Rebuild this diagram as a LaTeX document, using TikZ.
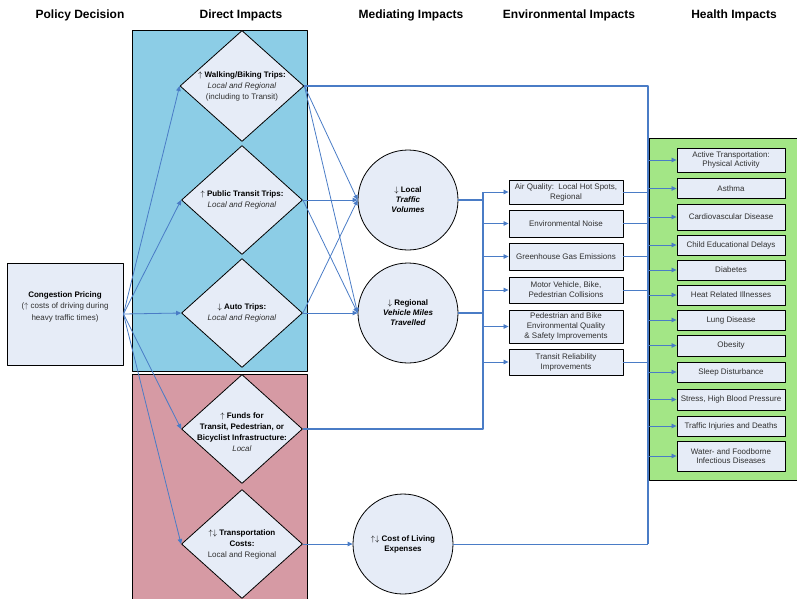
\documentclass[tikz,border=0pt]{standalone}
\usepackage{fontspec}
\setmainfont{Liberation Sans}
\usetikzlibrary{arrows.meta,shapes.geometric}
\definecolor{linkblue}{HTML}{4A7CC6}
\definecolor{directblue}{HTML}{8CCDE6}
\definecolor{fundpink}{HTML}{D69AA4}
\definecolor{healthgreen}{HTML}{A3E686}
\definecolor{boxfill}{HTML}{E6ECF7}
\definecolor{txtgray}{HTML}{303030}
\newcommand{\up}{$\uparrow$}
\newcommand{\dn}{$\downarrow$}
\tikzset{
  every picture/.style={line join=round, >={Triangle[length=5pt,width=4.5pt]}},
  heading/.style={font=\fontsize{12}{14}\selectfont\bfseries},
  panel/.style={draw=black, line width=0.9pt},
  impact/.style={diamond, draw=black, fill=boxfill, line width=0.8pt, minimum width=121pt, minimum height=109pt, inner sep=0pt},
  impacttext/.style={align=center, font=\fontsize{8}{11}\selectfont, text=txtgray, inner sep=0pt},
  mediator/.style={circle, draw=black, fill=boxfill, line width=0.8pt, minimum size=100pt, inner sep=0pt, align=center, font=\fontsize{8}{10}\selectfont\bfseries},
  envbox/.style={draw=black, fill=boxfill, line width=0.9pt, minimum width=114pt, inner sep=0pt, align=center, font=\fontsize{8}{10}\selectfont, text=txtgray},
  healthbox/.style={draw=black, fill=boxfill, line width=0.9pt, minimum width=108pt, inner sep=0pt, align=center, font=\fontsize{8}{9.5}\selectfont, text=txtgray},
  link/.style={draw=linkblue, line width=0.8pt},
  trunk/.style={draw=linkblue, line width=1.6pt},
}

\begin{document}
\begin{tikzpicture}[x=1pt,y=-1pt]
\useasboundingbox (0,0) rectangle (797,598);
\node[heading] (hPolicy) at (80,15) {Policy Decision};
\node[heading] (hDirect) at (241,15) {Direct Impacts};
\node[heading] (hMediating) at (411,15) {Mediating Impacts};
\node[heading] (hEnv) at (569,15) {Environmental Impacts};
\node[heading] (hHealth) at (734,15) {Health Impacts};
\draw[panel,fill=directblue] (132,30) rectangle (307,371);
\draw[panel,fill=fundpink] (132,374) rectangle (307,604);
\draw[panel,fill=healthgreen] (649,138) rectangle (800,480);
\node[draw=black, fill=boxfill, line width=0.9pt, minimum width=116pt, minimum height=102pt, align=center, font=\fontsize{8}{11.5}\selectfont, text=txtgray] (pricing) at (65,314)
  {\textbf{\color{black}Congestion Pricing}\\(\up\ costs of driving during\\heavy traffic times)\\[5pt]};
\node[impact, minimum width=124pt, minimum height=111pt] (walk) at (242,86) {};
\node[impacttext] (walkT) at (walk) {\textbf{\color{black}\up\ Walking/Biking Trips:}\\\textit{Local and Regional}\\(including to Transit)};
\node[impact] (transit) at (242,200) {};
\node[impacttext] (transitT) at (transit) {\textbf{\color{black}\up\ Public Transit Trips:}\\\textit{Local and Regional}};
\node[impact] (auto) at (242,313) {};
\node[impacttext] (autoT) at (auto) {\textbf{\color{black}\dn\ Auto Trips:}\\\textit{Local and Regional}};
\node[impact] (funds) at (242,429) {};
\node[impacttext] (fundsT) at ([yshift=-3pt]funds.center) {\textbf{\color{black}\up\ Funds for}\\\textbf{\color{black}Transit, Pedestrian, or}\\\textbf{\color{black}Bicyclist Infrastructure:}\\\textit{Local}};
\node[impact] (costs) at (242,544) {};
\node[impacttext] (costsT) at (costs) {\textbf{\color{black}\up\dn\ Transportation}\\\textbf{\color{black}Costs:}\\Local and Regional};
\node[mediator] (local) at (408,200) {\dn\ Local\\\textit{Traffic}\\\textit{Volumes}};
\node[mediator] (regional) at (408,313) {\dn\ Regional\\\textit{Vehicle Miles}\\\textit{Travelled}};
\node[mediator] (living) at (403,544) {\up\dn\ Cost of Living\\Expenses};
\node[envbox, minimum height=24pt] (air) at (566,192) {Air Quality:\ \ Local Hot Spots,\\Regional};
\node[envbox, minimum height=27pt] (noise) at (566,223.5) {Environmental Noise};
\node[envbox, minimum height=27pt] (ghg) at (566,256.5) {Greenhouse Gas Emissions};
\node[envbox, minimum height=26pt] (collide) at (566,290) {Motor Vehicle, Bike,\\Pedestrian Collisions};
\node[envbox, minimum height=33pt] (pedenv) at (566,326.5) {Pedestrian and Bike\\Environmental Quality\\\& Safety Improvements};
\node[envbox, minimum height=26pt] (reliab) at (566,362) {Transit Reliability\\Improvements};
\node[healthbox, minimum height=24pt] (active) at (731,160) {Active Transportation:\\Physical Activity};
\node[healthbox, minimum height=20pt] (asthma) at (731,188.5) {Asthma};
\node[healthbox, minimum height=26pt] (cardio) at (731,217) {Cardiovascular Disease};
\node[healthbox, minimum height=20pt] (child) at (731,245) {Child Educational Delays};
\node[healthbox, minimum height=20pt] (diabetes) at (731,270) {Diabetes};
\node[healthbox, minimum height=20pt] (heat) at (731,295) {Heat Related Illnesses};
\node[healthbox, minimum height=20pt] (lung) at (731,320) {Lung Disease};
\node[healthbox, minimum height=21pt] (obesity) at (731,345.5) {Obesity};
\node[healthbox, minimum height=20pt] (sleep) at (731,372) {Sleep Disturbance};
\node[healthbox, minimum height=21pt] (stress) at (731,399.5) {Stress, High Blood Pressure};
\node[healthbox, minimum height=20pt] (injury) at (731,426) {Traffic Injuries and Deaths};
\node[healthbox, minimum height=30pt] (water) at (731,456) {Water- and Foodborne\\Infectious Diseases};
\draw[link,->] (pricing.east) -- (walk.west);
\draw[link,->] (pricing.east) -- (transit.west);
\draw[link,->] (pricing.east) -- (auto.west);
\draw[link,->] (pricing.east) -- (funds.west);
\draw[link,->] (pricing.east) -- (costs.west);
\draw[link,->] (walk.east) -- (local.west);
\draw[link,->] (walk.east) -- (regional.west);
\draw[link,->] (transit.east) -- (local.west);
\draw[link,->] (transit.east) -- (regional.west);
\draw[link,->] (auto.east) -- (local.west);
\draw[link,->] (auto.east) -- (regional.west);
\draw[link,->] (costs.east) -- (living.west);
\coordinate (ebus) at (483,192);
\coordinate (hbus) at (648,86);
\draw[trunk] (local.east) -- (local.east -| ebus);
\draw[trunk] (regional.east) -- (regional.east -| ebus);
\draw[trunk] (funds.east) -| (ebus);
\draw[link,->] (ebus) -- (air.west);
\draw[link,->] (ebus |- noise) -- (noise.west);
\draw[link,->] (ebus |- ghg) -- (ghg.west);
\draw[link,->] (ebus |- collide) -- (collide.west);
\draw[link,->] (ebus |- pedenv) -- (pedenv.west);
\draw[link,->] (ebus |- reliab) -- (reliab.west);
\draw[trunk] (walk.east) -- (hbus) -- (hbus |- living);
\draw[link] (living.east) -- (living.east -| hbus);
\draw[link] (air.east) -- (air.east -| hbus);
\draw[link] (noise.east) -- (noise.east -| hbus);
\draw[link] (ghg.east) -- (ghg.east -| hbus);
\draw[link] (collide.east) -- (collide.east -| hbus);
\draw[link] (reliab.east) -- (reliab.east -| hbus);
\draw[link,->] (hbus |- active) -- (active.west);
\draw[link,->] (hbus |- asthma) -- (asthma.west);
\draw[link,->] (hbus |- cardio) -- (cardio.west);
\draw[link,->] (hbus |- child) -- (child.west);
\draw[link,->] (hbus |- diabetes) -- (diabetes.west);
\draw[link,->] (hbus |- heat) -- (heat.west);
\draw[link,->] (hbus |- lung) -- (lung.west);
\draw[link,->] (hbus |- obesity) -- (obesity.west);
\draw[link,->] (hbus |- sleep) -- (sleep.west);
\draw[link,->] (hbus |- stress) -- (stress.west);
\draw[link,->] (hbus |- injury) -- (injury.west);
\draw[link,->] (hbus |- water) -- (water.west);
\end{tikzpicture}
\end{document}
